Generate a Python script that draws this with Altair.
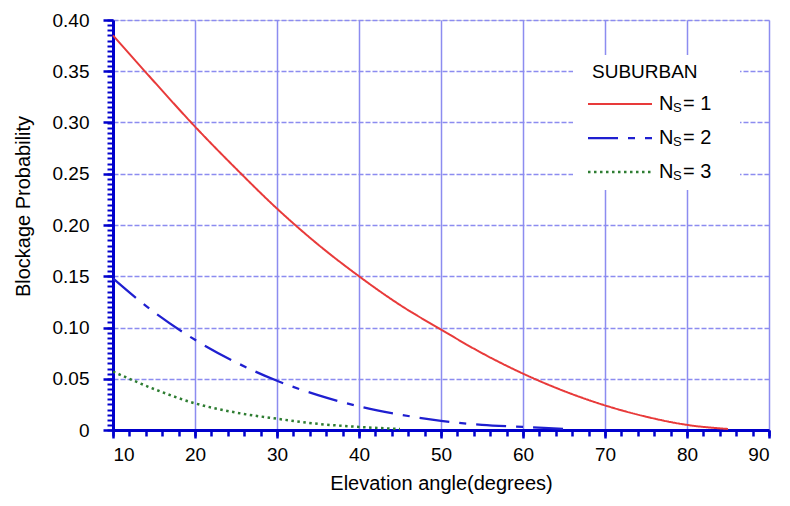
import altair as alt
import pandas as pd

# Data
x1 = [10, 15, 20, 25, 30, 35, 40, 45, 50, 55, 60, 65, 70, 75, 80, 85]
y1 = [0.385, 0.340, 0.296, 0.255, 0.216, 0.181, 0.150, 0.122, 0.098, 0.075, 0.055, 0.038, 0.024, 0.013, 0.005, 0.001]
x2 = [10, 15, 20, 25, 30, 35, 40, 45, 50, 55, 60, 65]
y2 = [0.148, 0.115, 0.088, 0.066, 0.048, 0.034, 0.023, 0.015, 0.009, 0.005, 0.003, 0.001]
x3 = [10, 15, 20, 25, 30, 35, 40, 45]
y3 = [0.057, 0.040, 0.026, 0.017, 0.011, 0.006, 0.003, 0.001]
series = ["Ns=1", "Ns=2", "Ns=3"]
legend_title = "SUBURBAN"
legend_nums = ["= 1", "= 2", "= 3"]
x_title = "Elevation angle(degrees)"
y_title = "Blockage Probability"

rows = []
for name, xs, ys in zip(series, [x1, x2, x3], [y1, y2, y3]):
    for a, b in zip(xs, ys):
        rows.append({"s": name, "x": a, "y": b})
df = pd.DataFrame(rows)

FONT = "Liberation Sans"
AX = "#0000cc"
GRID = "#8c8cf0"

xscale = alt.Scale(domain=[10, 90], nice=False, zero=False)
yscale = alt.Scale(domain=[0, 0.40], nice=False)

x_major = alt.Axis(values=list(range(10, 91, 10)), grid=True, gridColor=GRID, gridWidth=1.5,
                   domainColor=AX, domainWidth=3, tickColor=AX, tickWidth=2.5, tickSize=8,
                   labelFont=FONT, labelFontSize=19, labelColor="black", labelPadding=7,
                   title=x_title, titleFont=FONT, titleFontSize=20, titleFontWeight="normal",
                   titleColor="black", titlePadding=9, orient="bottom", zindex=0)
y_major = alt.Axis(values=[i * 0.05 for i in range(9)], grid=True, gridColor=GRID, gridWidth=1.5,
                   gridDash=[5, 2], domainColor=AX, domainWidth=3, tickColor=AX, tickWidth=2.5,
                   tickSize=10, labelFont=FONT, labelFontSize=19, labelColor="black", labelPadding=14,
                   labelExpr="datum.value == 0 ? '0' : format(datum.value, '.2f')",
                   title=y_title, titleFont=FONT, titleFontSize=20, titleFontWeight="normal",
                   titleColor="black", titleX=-80, titleY=186, titleBaseline="bottom",
                   orient="left", zindex=0)

x_minor = alt.Axis(values=list(range(10, 91, 2)), grid=False, domain=False, labels=False,
                   tickColor=AX, tickWidth=2.5, tickSize=6, title=None, orient="bottom", zindex=0)
y_minor = alt.Axis(values=[round(i * 0.005, 3) for i in range(81)], grid=False, domain=False,
                   labels=False, tickColor=AX, tickWidth=2, tickSize=6, title=None, orient="left", zindex=0)

color = alt.Scale(domain=series, range=["#e83a3a", "#1f1fd0", "#2e7d32"])
dash = alt.Scale(domain=series, range=[[1, 0], [30, 10, 7, 10], [2.5, 3.5]])
width_s = alt.Scale(domain=series, range=[2, 2.5, 3])

lines = alt.Chart(df).mark_line(interpolate="monotone").encode(
    x=alt.X("x:Q", scale=xscale, axis=x_major),
    y=alt.Y("y:Q", scale=yscale, axis=y_major),
    color=alt.Color("s:N", scale=color, legend=None),
    strokeDash=alt.StrokeDash("s:N", scale=dash, legend=None),
    strokeWidth=alt.StrokeWidth("s:N", scale=width_s, legend=None),
    detail="s:N",
)

minor = alt.Chart(df).mark_point(opacity=0).encode(
    x=alt.X("x:Q", scale=xscale, axis=x_minor),
    y=alt.Y("y:Q", scale=yscale, axis=y_minor),
)

# Manual legend (pixel placement inside plot area)
leg_df = pd.DataFrame({"s": series, "num": legend_nums, "row": [0, 1, 2]})
rowscale = alt.Scale(domain=[0, 2], range=[84, 152])
box = alt.Chart(pd.DataFrame({"a": [0]})).mark_rect(color="white").encode(
    x=alt.value(460), x2=alt.value(627), y=alt.value(35), y2=alt.value(170))
title_t = alt.Chart(pd.DataFrame({"t": [legend_title]})).mark_text(
    font=FONT, fontSize=19, align="left", baseline="middle", color="black").encode(
    x=alt.value(479), y=alt.value(52), text="t:N")
leg_lines = alt.Chart(leg_df).mark_rule().encode(
    x=alt.value(475), x2=alt.value(539),
    y=alt.Y("row:Q", scale=rowscale, axis=None),
    color=alt.Color("s:N", scale=color, legend=None),
    strokeDash=alt.StrokeDash("s:N", scale=alt.Scale(domain=series, range=[[1, 0], [28, 10, 7, 10], [2.5, 2.5]]), legend=None),
    strokeWidth=alt.StrokeWidth("s:N", scale=alt.Scale(domain=series, range=[2.5, 3, 3]), legend=None),
)
leg_n = alt.Chart(leg_df).mark_text(font=FONT, fontSize=20, align="left", baseline="middle", color="black").encode(
    x=alt.value(546), y=alt.Y("row:Q", scale=rowscale, axis=None), text=alt.value("N"))
leg_s = alt.Chart(leg_df).mark_text(font=FONT, fontSize=13, align="left", baseline="middle", color="black", dy=4).encode(
    x=alt.value(560), y=alt.Y("row:Q", scale=rowscale, axis=None), text=alt.value("S"))
leg_num = alt.Chart(leg_df).mark_text(font=FONT, fontSize=20, align="left", baseline="middle", color="black").encode(
    x=alt.value(570), y=alt.Y("row:Q", scale=rowscale, axis=None), text="num:N")

chart = alt.layer(minor, lines, box, title_t, leg_lines, leg_n, leg_s, leg_num).resolve_axis(
    x="independent", y="independent").resolve_scale(y="independent").properties(
    width=656, height=410,
    autosize=alt.AutoSizeParams(type="none"),
    padding={"left": 105, "top": 12, "right": 13, "bottom": 68},
).configure_view(stroke=None).configure(background="white")

chart.save("out.html", embed_options={"renderer": "svg", "actions": False})
